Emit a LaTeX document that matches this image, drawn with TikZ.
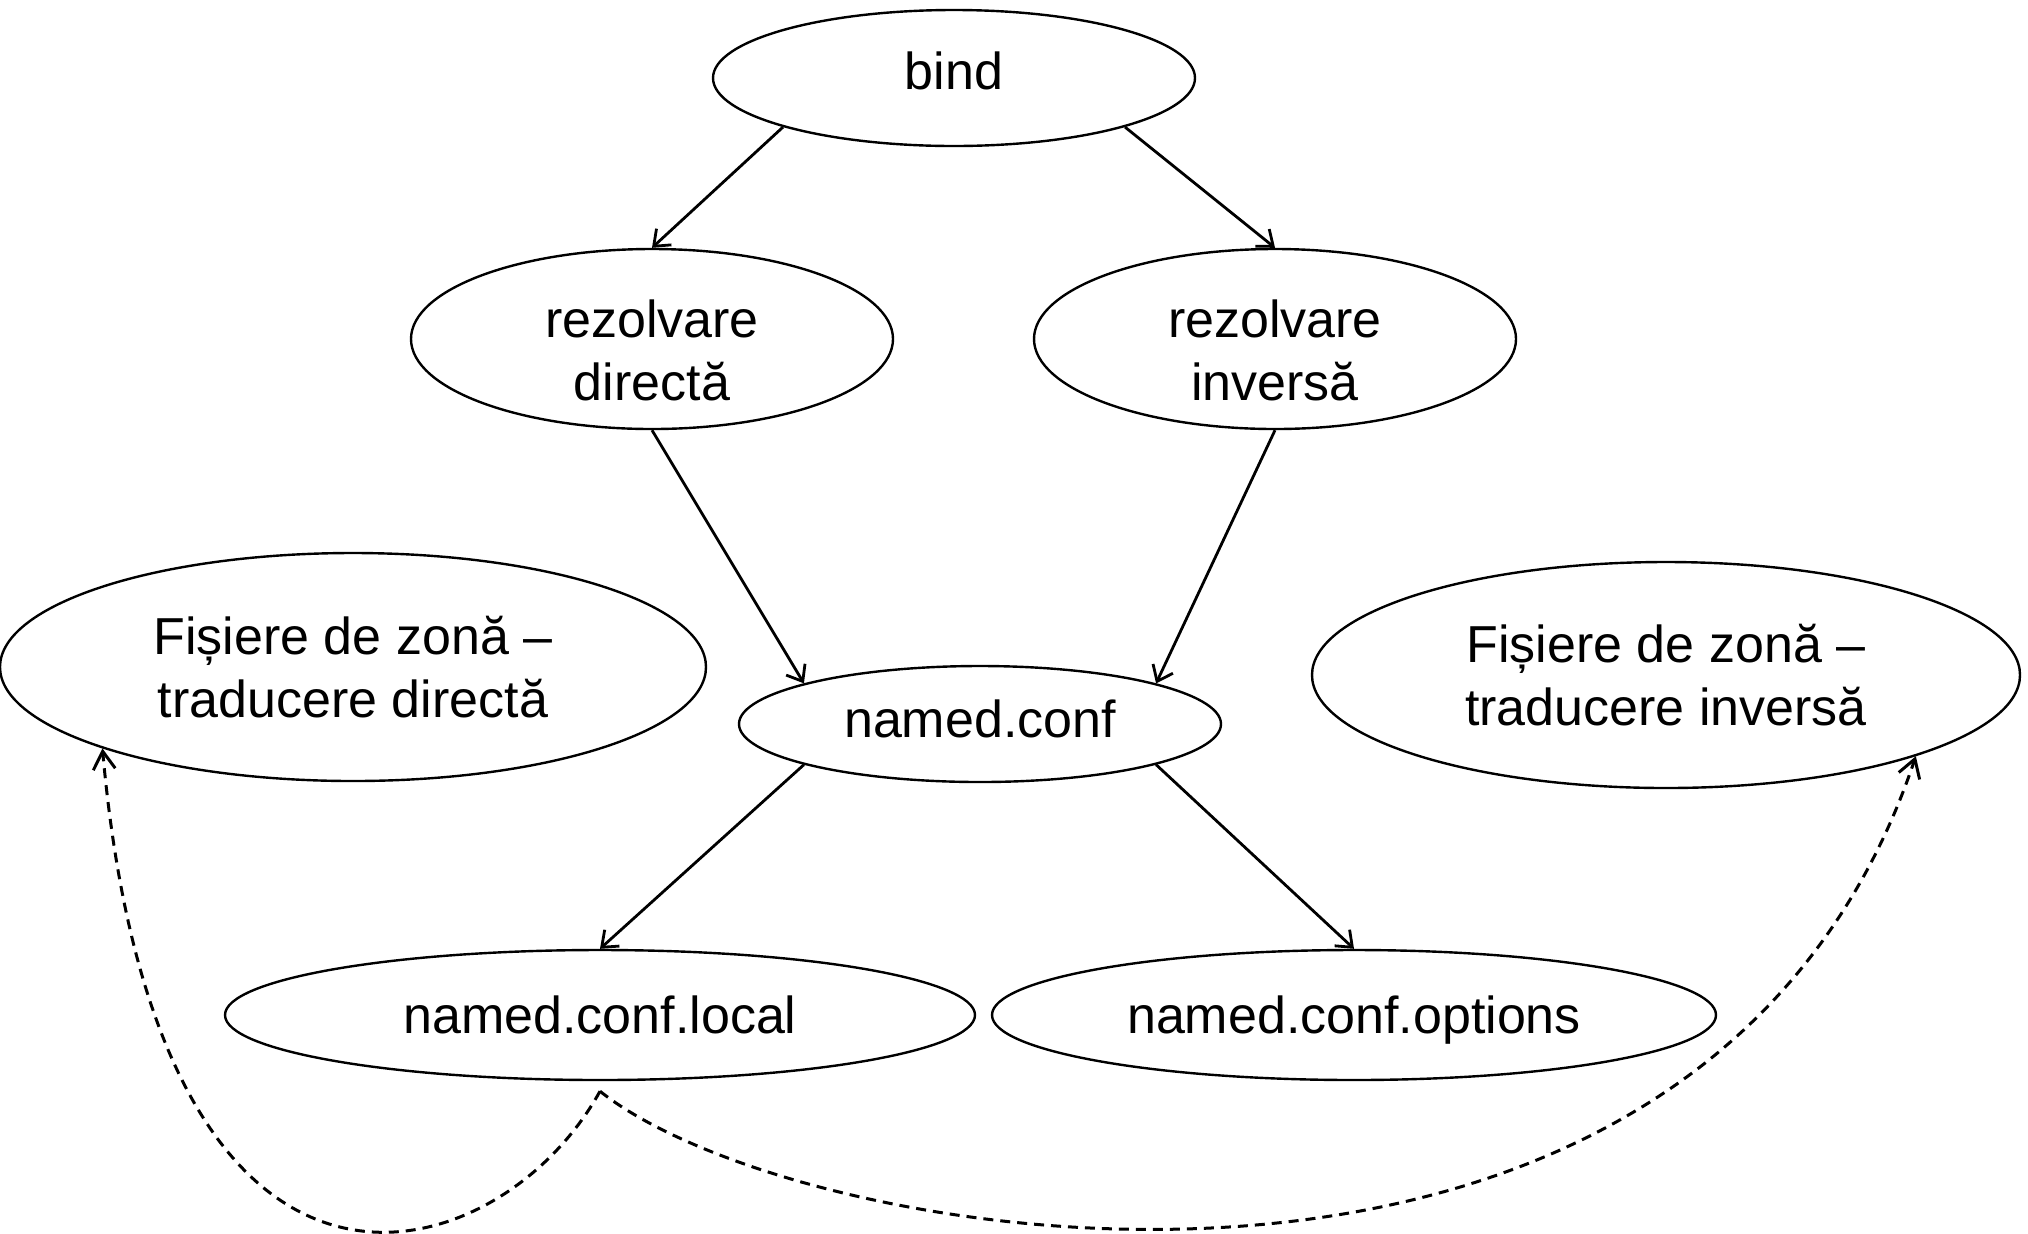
\documentclass[tikz,border=0pt]{standalone}
\usepackage{fontspec}
\setmainfont{Liberation Sans}
\usetikzlibrary{shapes.geometric,positioning,arrows.meta}
\tikzset{
>={Straight Barb[length=7pt,width=11pt]},
every node/.style={font=\fontsize{26}{31.5}\selectfont},
zone/.style={ellipse, draw, line width=1.2pt, inner sep=0pt, align=center},
link/.style={->, line width=1.4pt},
ref/.style={-{Straight Barb[length=9pt,width=11pt]}, line width=1.5pt, dash pattern=on 5pt off 3.5pt},
}

\begin{document}
\begin{tikzpicture}[on grid]
        \useasboundingbox (0,0) rectangle (1014pt,-616.5pt);
        \node[zone, minimum width=241pt, minimum height=68pt, text depth=7pt] (bind) at (477pt,-39pt) {bind};
        \node[zone, minimum width=241pt, minimum height=90pt, text height=62pt, below left=130.5pt and 151pt of bind] (direct) {rezolvare\\directă};
        \node[zone, minimum width=241pt, minimum height=90pt, text height=62pt, below right=130.5pt and 160.5pt of bind] (invers) {rezolvare\\inversă};
        \node[zone, minimum width=241pt, minimum height=58pt, text depth=5pt, below right=192.5pt and 164pt of direct] (named) {named.conf};
        \node[zone, minimum width=353pt, minimum height=114pt, above left=28.5pt and 313.5pt of named] (zdirect) {Fișiere de zonă –\\traducere directă};
        \node[zone, minimum width=354pt, minimum height=113pt, above right=24.5pt and 343pt of named] (zinvers) {Fișiere de zonă –\\traducere inversă};
        \node[zone, minimum width=375pt, minimum height=65pt, below left=145.5pt and 190pt of named] (local) {named.conf.local};
        \node[zone, minimum width=362pt, minimum height=65pt, text depth=0pt, right=377pt of local] (options) {named.conf.options};

        \draw[link] (bind.196) -- (direct.north);
        \draw[link] (bind.344) -- (invers.north);
        \draw[link] (direct.south) -- (named.167);
        \draw[link] (invers.south) -- (named.13);
        \draw[link] (named.193) -- (local.north);
        \draw[link] (named.347) -- (options.north);

        \coordinate (start) at ([yshift=-5pt]local.south);
        \draw[ref] (start) .. controls +(-50.6pt,-92pt) and +(28.4pt,-315pt) .. (zdirect.198);
        \draw[ref] (start) .. controls +(100pt,-80pt) and +(-108pt,-321.5pt) .. (zinvers.342);
    \end{tikzpicture}
\end{document}
